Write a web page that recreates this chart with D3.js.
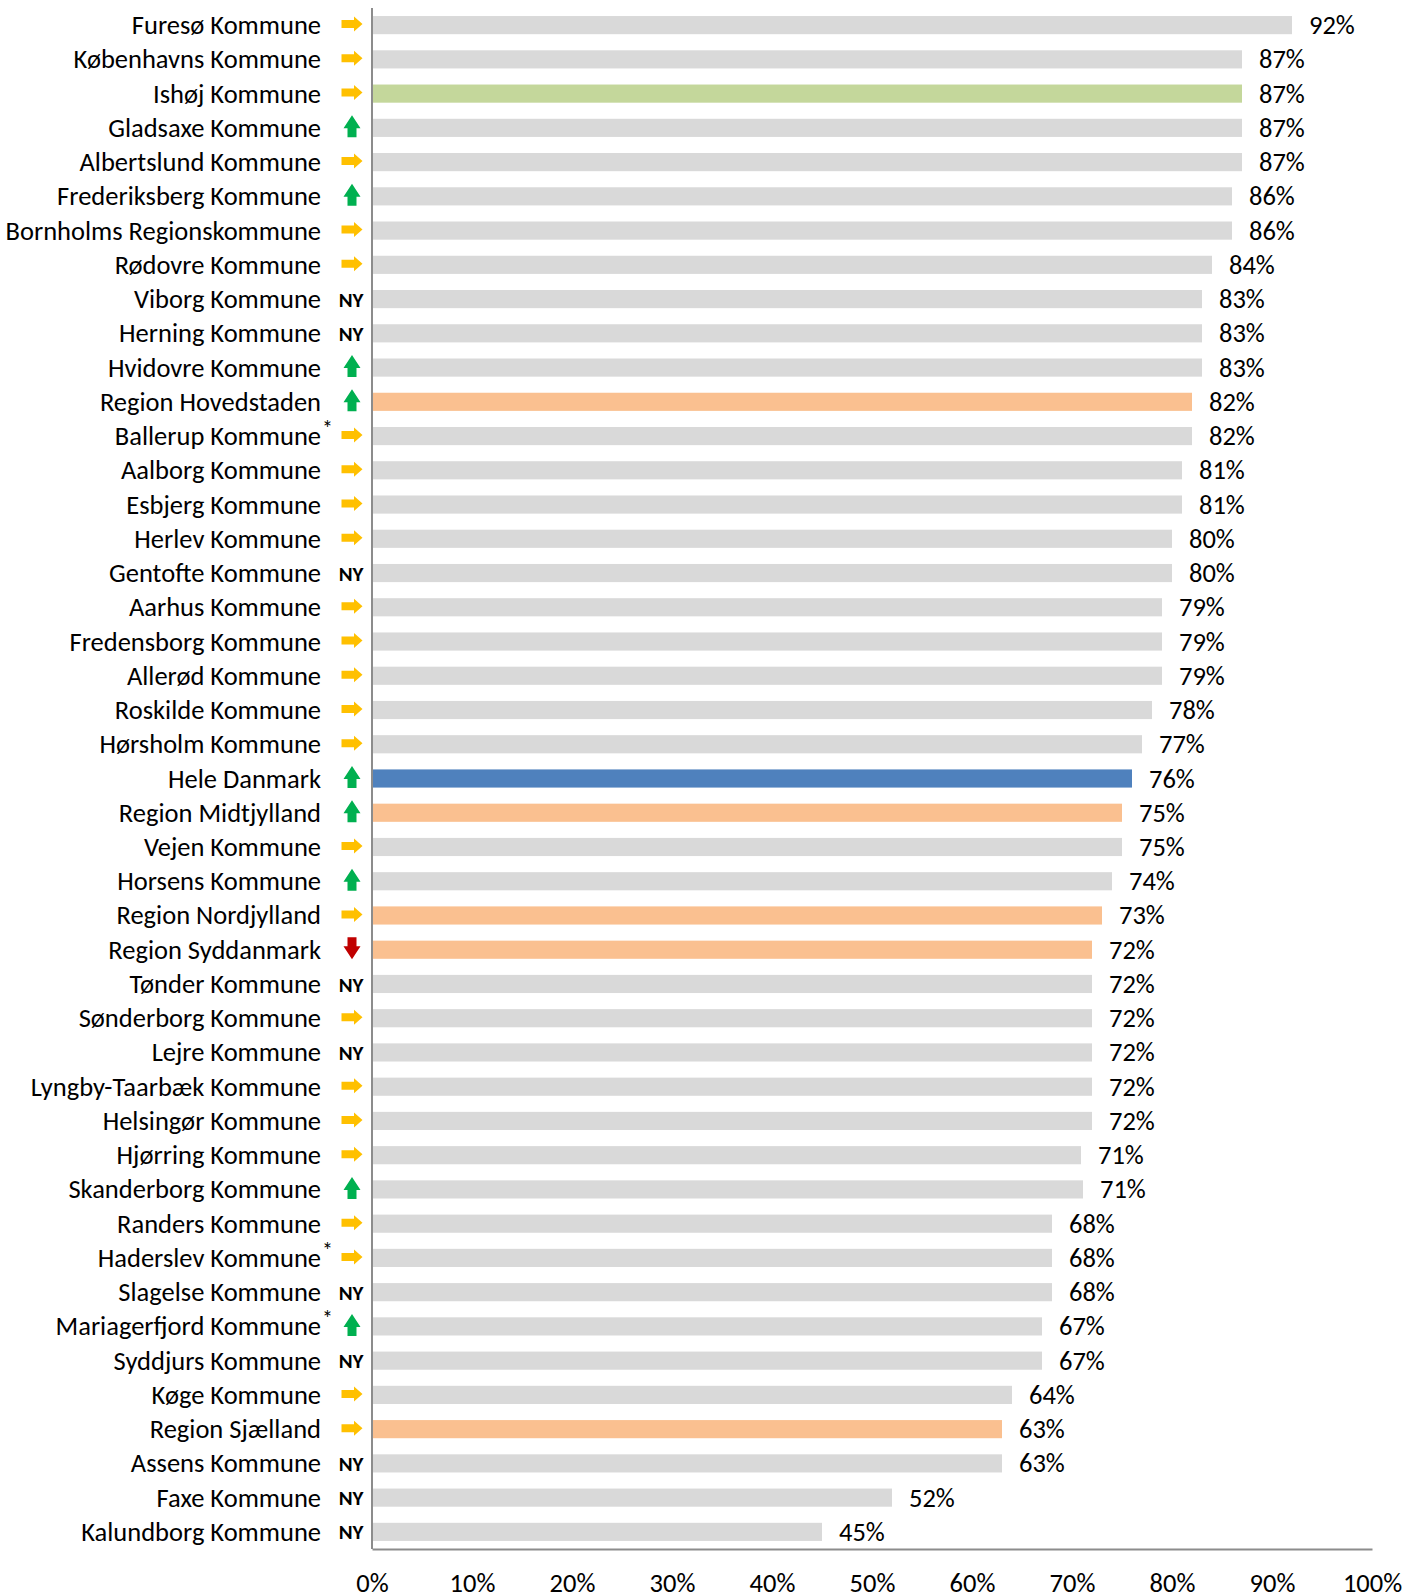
<!DOCTYPE html>
<html>
<head>
<meta charset="utf-8">
<script src="https://cdn.jsdelivr.net/npm/d3@7"></script>
<style>
  body { margin: 0; background: #fff; }
  text { font-family: Carlito, Calibri, Lato, sans-serif; fill: #000; }
</style>
</head>
<body>
<svg id="chart"></svg>
<script>
var w = 1409;
var h = 1594;

// data
var names = [
  "Furesø Kommune", "Københavns Kommune", "Ishøj Kommune", "Gladsaxe Kommune",
  "Albertslund Kommune", "Frederiksberg Kommune", "Bornholms Regionskommune",
  "Rødovre Kommune", "Viborg Kommune", "Herning Kommune", "Hvidovre Kommune",
  "Region Hovedstaden", "Ballerup Kommune", "Aalborg Kommune", "Esbjerg Kommune",
  "Herlev Kommune", "Gentofte Kommune", "Aarhus Kommune", "Fredensborg Kommune",
  "Allerød Kommune", "Roskilde Kommune", "Hørsholm Kommune", "Hele Danmark",
  "Region Midtjylland", "Vejen Kommune", "Horsens Kommune", "Region Nordjylland",
  "Region Syddanmark", "Tønder Kommune", "Sønderborg Kommune", "Lejre Kommune",
  "Lyngby-Taarbæk Kommune", "Helsingør Kommune", "Hjørring Kommune",
  "Skanderborg Kommune", "Randers Kommune", "Haderslev Kommune", "Slagelse Kommune",
  "Mariagerfjord Kommune", "Syddjurs Kommune", "Køge Kommune", "Region Sjælland",
  "Assens Kommune", "Faxe Kommune", "Kalundborg Kommune"
];
var values = [
  0.92, 0.87, 0.87, 0.87, 0.87, 0.86, 0.86, 0.84, 0.83, 0.83, 0.83,
  0.82, 0.82, 0.81, 0.81, 0.80, 0.80, 0.79, 0.79, 0.79, 0.78, 0.77, 0.76,
  0.75, 0.75, 0.74, 0.73, 0.72, 0.72, 0.72, 0.72, 0.72, 0.72, 0.709,
  0.711, 0.68, 0.68, 0.68, 0.67, 0.67, 0.64, 0.63, 0.63, 0.52, 0.45
];
// r = same, u = up, d = down, n = NY (new)
var trends = [
  "r", "r", "r", "u", "r", "u", "r", "r", "n", "n", "u",
  "u", "r", "r", "r", "r", "n", "r", "r", "r", "r", "r", "u",
  "u", "r", "u", "r", "d", "n", "r", "n", "r", "r", "r",
  "u", "r", "r", "n", "u", "n", "r", "r", "n", "n", "n"
];
var starred = ["Ballerup Kommune", "Haderslev Kommune", "Mariagerfjord Kommune"];
var regions = ["Region Hovedstaden", "Region Midtjylland", "Region Nordjylland",
               "Region Syddanmark", "Region Sjælland"];
var ticks = [0, 0.1, 0.2, 0.3, 0.4, 0.5, 0.6, 0.7, 0.8, 0.9, 1];

var fs = "26.5px";

var rows = names.map(function(n, i) {
  return { name: n, value: values[i], trend: trends[i] };
});

var barColor = function(d) {
  if (d.name == "Ishøj Kommune") return "#c4d79b";
  if (d.name == "Hele Danmark") return "#4f81bd";
  if (regions.indexOf(d.name) >= 0) return "#fac090";
  return "#d9d9d9";
};

var svg = d3.select("#chart")
  .attr("width", w)
  .attr("height", h);

var x = d3.scaleLinear().domain([0, 1]).range([372, 1372]);
var y = d3.scaleBand().domain(names).range([8, 1549])
  .paddingInner(0.47).paddingOuter(0.235);

// bars
svg.append("g").selectAll("rect")
  .data(rows)
  .enter().append("rect")
  .attr("x", x(0))
  .attr("y", function(d) { return y(d.name); })
  .attr("width", function(d) { return x(d.value) - x(0); })
  .attr("height", y.bandwidth())
  .attr("fill", barColor);

// value labels
svg.append("g").selectAll("text")
  .data(rows)
  .enter().append("text")
  .attr("x", function(d) { return x(d.value) + 17; })
  .attr("y", function(d) { return y(d.name) + y.bandwidth() / 2; })
  .attr("dy", "0.34em")
  .style("font-size", fs)
  .text(function(d) { return Math.round(d.value * 100) + "%"; });

// category labels
svg.append("g").selectAll("text")
  .data(rows)
  .enter().append("text")
  .attr("x", 321)
  .attr("y", function(d) { return y(d.name) + y.bandwidth() / 2; })
  .attr("dy", "0.34em")
  .attr("text-anchor", "end")
  .style("font-size", fs)
  .text(function(d) { return d.name; });

svg.append("g").selectAll("text")
  .data(rows.filter(function(d) { return starred.indexOf(d.name) >= 0; }))
  .enter().append("text")
  .attr("x", 322)
  .attr("y", function(d) { return y(d.name) + y.bandwidth() / 2; })
  .style("font-size", "22px")
  .text("*");

// trend markers
var arrows = {
  r: "M-10.5,-4L2,-4L2,-7.5L10.5,0L2,7.5L2,4L-10.5,4Z",
  u: "M-4.5,11L-4.5,2L-8.5,2L0,-11L8.5,2L4.5,2L4.5,11Z",
  d: "M-4.5,-11L-4.5,-2L-8.5,-2L0,11L8.5,-2L4.5,-2L4.5,-11Z"
};
var arrowColor = { r: "#ffc000", u: "#00b050", d: "#c00000" };

var marks = svg.append("g");
marks.selectAll("path")
  .data(rows.filter(function(d) { return d.trend != "n"; }))
  .enter().append("path")
  .attr("d", function(d) { return arrows[d.trend]; })
  .attr("fill", function(d) { return arrowColor[d.trend]; })
  .attr("transform", function(d) {
    var dy = d.trend == "r" ? -1 : -1.5;
    return "translate(" + [352, y(d.name) + y.bandwidth() / 2 + dy] + ")";
  });
marks.selectAll("text")
  .data(rows.filter(function(d) { return d.trend == "n"; }))
  .enter().append("text")
  .attr("x", 351)
  .attr("y", function(d) { return y(d.name) + y.bandwidth() / 2; })
  .attr("dy", "0.36em")
  .attr("text-anchor", "middle")
  .style("font-size", "21px")
  .style("font-weight", "900")
  .text("NY");

// axes
svg.append("line")
  .attr("x1", x(0)).attr("x2", x(0))
  .attr("y1", 8).attr("y2", 1549)
  .attr("stroke", "#8c8c8c").attr("stroke-width", 2);

var xAxis = svg.append("g")
  .attr("transform", "translate(0,1549)")
  .call(d3.axisBottom(x).tickValues(ticks).tickSize(0).tickPadding(24)
    .tickFormat(d3.format(".0%")));
xAxis.select(".domain").attr("stroke", "#8c8c8c").attr("stroke-width", 2);
xAxis.selectAll("text")
  .style("font-family", "Carlito, Calibri, Lato, sans-serif")
  .style("font-size", fs)
  .attr("fill", "#000");
</script>
</body>
</html>
